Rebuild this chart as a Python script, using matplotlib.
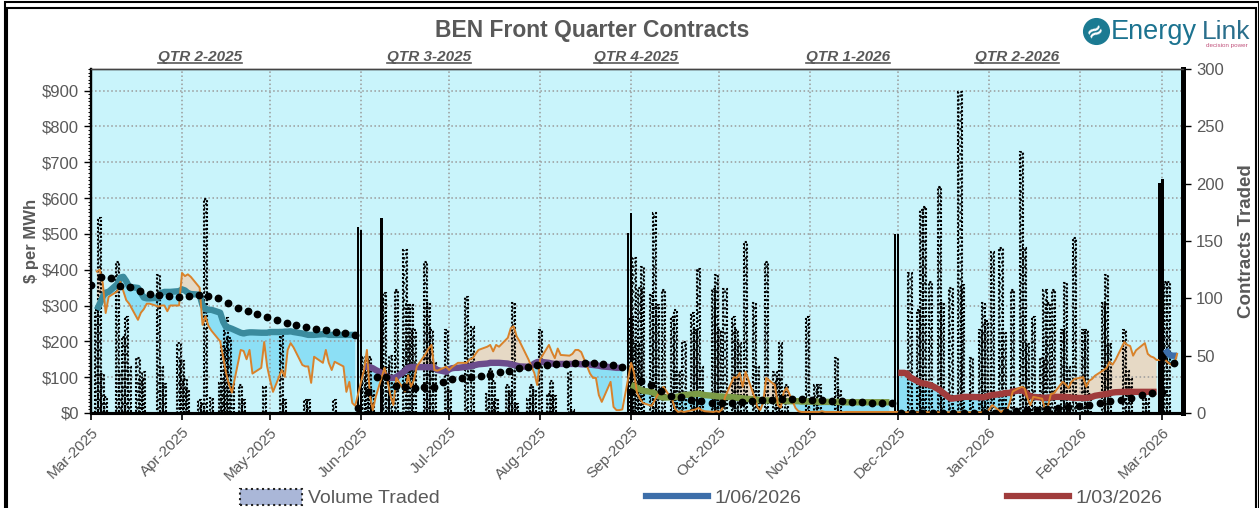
import matplotlib.pyplot as plt
import matplotlib.dates as mdates
import numpy as np
import pandas as pd
from matplotlib.patches import Patch, Rectangle
from matplotlib.lines import Line2D

plt.rcParams['font.family'] = ['Liberation Sans', 'DejaVu Sans']
plt.rcParams['hatch.linewidth'] = 1.2
GREY = '#595959'

# --- trading days of each front quarter ---
q2_25_days = pd.bdate_range('2025-03-03', '2025-05-30')
q3_25_days = pd.bdate_range('2025-06-02', '2025-08-29')
q4_25_days = pd.bdate_range('2025-09-01', '2025-11-28')
q1_26_days = pd.bdate_range('2025-12-01', '2026-02-27')
q2_26_days = pd.bdate_range('2026-03-02', '2026-03-06')

# front quarter settlement ($/MWh)
q2_25_price = [288, 305, 325, 336, 338, 360, 378, 380, 368, 352, 349, 335, 322, 320, 320, 322, 335, 338, 338, 338, 340,
               345, 342, 335, 332, 330, 300, 290, 288, 288, 280, 255, 240, 238, 235, 224, 222, 224, 225, 225, 224, 224, 224,
               226, 226, 226, 227, 227, 228, 226, 222, 220, 218, 218, 218, 220, 220, 218, 218, 218, 218, 218, 218, 218, 218]
q3_25_price = [129, 129, 128, 125, 120, 108, 100, 98, 98, 100, 118, 126, 128, 128, 128, 128, 128, 128, 126, 120, 115,
               122, 125, 126, 126, 129, 130, 132, 134, 136, 138, 140, 140, 140, 140, 138, 136, 134, 132, 130, 129, 132, 138, 142,
               143, 140, 138, 137, 137, 137, 137, 137, 137, 137, 136, 135, 134, 133, 132, 130, 128, 127, 126, 126, 126]
q4_25_price = [78, 75, 70, 66, 62, 59, 55, 50, 45, 43, 44, 45, 46, 48, 50, 52, 53, 54, 52, 50, 48, 47,
               46, 46, 45, 44, 43, 42, 41, 40, 38, 37, 36, 36, 35, 35, 34, 34, 34, 33, 33, 33, 32, 32, 32,
               32, 31, 31, 31, 31, 31, 31, 30, 30, 30, 30, 30, 30, 30, 30, 30, 30, 30, 30, 30]
q1_26_price = [112, 112, 112, 110, 100, 87, 83, 82, 80, 78, 65, 58, 52, 45, 40, 43, 45, 45, 45, 45, 44, 44, 46,
               48, 50, 53, 55, 56, 56, 60, 64, 60, 52, 47, 45, 43, 42, 43, 44, 45, 45, 45, 44, 43, 42,
               42, 42, 43, 45, 48, 52, 53, 55, 57, 58, 59, 59, 59, 59, 59, 59, 59, 59, 59, 59]
q2_26_price = [178, 165, 160, 160, 160]

# daily spot ($/MWh)
q2_25_spot = [395, 400, 363, 279, 324, 340, 366, 340, 315, 305, 260, 280, 290, 305, 305, 297, 300, 300, 284, 300, 300,
              391, 382, 387, 380, 350, 246, 270, 243, 230, 200, 157, 112, 80, 57, 176, 173, 150, 176, 110, 126, 198, 130,
              92, 59, 120, 101, 176, 195, 183, 134, 130, 130, 84, 157, 140, 176, 140, 120, 143, 130, 59, 87, 28, 20]
q3_25_spot = [120, 176, 50, 8, 45, 126, 90, 50, 22, 98, 60, 105, 73, 92, 130, 165, 180, 190, 120, 118, 129,
              120, 128, 134, 140, 140, 150, 153, 165, 176, 185, 190, 172, 190, 185, 210, 237, 242, 214, 200, 150, 130, 112, 78,
              150, 190, 170, 153, 180, 162, 160, 165, 176, 176, 170, 110, 98, 98, 50, 31, 87, 17, 8, 8, 10]
q4_25_spot = [140, 112, 56, 40, 28, 20, 35, 50, 60, 73, 37, 11, 3, 5, 3, 8, 10, 14, 8, 5, 3, 5,
              3, 10, 45, 100, 98, 112, 73, 115, 45, 17, 8, 30, 98, 78, 22, 15, 59, 70, 14, 5, 3, 3, 3,
              3, 3, 5, 3, 3, 3, 3, 2, 3, 3, 3, 3, 3, 3, 3, 3, 3, 3, 3, 3]
q1_26_spot = [3, 3, 2, 2, 2, 2, 2, 3, 2, 2, 2, 2, 2, 2, 2, 2, 2, 2, 2, 2, 2, 2, 3,
              10, 22, 3, 8, 5, 30, 60, 73, 70, 42, 22, 45, 40, 11, 20, 53, 55, 87, 80, 70, 87, 95,
              100, 73, 90, 95, 104, 120, 126, 143, 135, 148, 198, 190, 187, 160, 175, 195, 165, 158, 155, 148]
q2_26_spot = [148, 140, 135, 135, 165]

# contracts traded per day
q2_25_vol = [90, 170, 34, 14, 0, 132, 37, 66, 84, 40, 48, 29, 36, 0, 0, 120, 40, 25, 0, 0, 61,
             45, 30, 20, 0, 11, 8, 187, 0, 13, 26, 58, 83, 65, 25, 24, 11, 0, 0, 0, 0, 23, 0,
             0, 0, 72, 11, 0, 0, 0, 0, 11, 11, 0, 0, 0, 0, 0, 0, 11, 0, 0, 0, 0, 0]
q3_25_vol = [49, 45, 49, 20, 0, 105, 40, 50, 0, 107, 142, 94, 94, 72, 0, 132, 96, 72, 44, 0, 72,
             20, 0, 0, 0, 101, 0, 75, 0, 0, 17, 38, 28, 12, 0, 24, 18, 96, 8, 0, 12, 24, 20, 0,
             72, 17, 28, 15, 0, 0, 36, 3, 0, 0, 0, 0, 0, 0, 0, 0, 0, 0, 0, 0, 0]
q4_25_vol = [84, 135, 60, 109, 127, 103, 174, 94, 0, 107, 84, 90, 36, 0, 62, 87, 72, 126, 40, 0, 108, 120,
             72, 0, 108, 84, 72, 61, 0, 149, 96, 40, 0, 0, 132, 36, 30, 61, 0, 24, 0, 0, 0, 0, 84,
             24, 24, 0, 0, 0, 48, 20, 0, 0, 0, 0, 0, 0, 0, 0, 0, 0, 0, 0, 0]
q1_26_vol = [0, 0, 0, 0, 122, 90, 177, 180, 0, 114, 197, 96, 0, 0, 109, 280, 112, 0, 0, 48, 72, 96, 80,
             0, 140, 144, 70, 0, 0, 107, 228, 144, 60, 0, 84, 48, 107, 96, 0, 107, 72, 113, 40, 0, 153,
             72, 72, 17, 0, 0, 96, 120, 60, 0, 0, 72, 37, 30, 0, 0, 12, 12, 0, 0, 0]
q2_26_vol = [114, 114, 0, 0, 0]

# roll-day volumes (solid bars)
roll_dates = pd.to_datetime(['2025-05-31', '2025-06-01', '2025-06-08', '2025-08-31', '2025-09-01',
                             '2025-11-30', '2025-12-01', '2026-02-28', '2026-03-01'])
roll_vol = [162, 160, 170, 157, 174, 156, 156, 201, 204]

# earlier forward curve snapshot (black dots)
q2_25_fwd = [358, 380, 377, 355, 352, 341, 332, 330, 327, 324, 327, 330, 327, 321, 307, 293, 285, 277, 268, 260,
             252, 246, 240, 235, 232, 226, 224, 218]
q3_25_fwd = [14, 60, 101, 101, 75, 73, 70, 73, 73, 87, 95, 98, 101, 103, 107, 115, 118, 126, 129, 134, 134, 137,
             137, 140, 140, 140, 137, 134, 129]
q4_25_fwd = [59, 90, 78, 61, 48, 45, 36, 33, 29, 28, 27, 31, 34, 36, 37, 39, 39, 40, 37, 36, 34, 34, 31, 30,
             29, 29, 28]
q1_26_fwd = [0, 0, 0, 0, 0, 0, 0, 0, 0, 0, 2, 5, 7, 8, 10, 14, 17, 20, 23, 28, 33, 36, 42, 50, 56, 59]
q2_26_fwd = [157, 140]
fwd_spans = [('2025-03-01', '2025-05-30'), ('2025-05-31', '2025-08-29'), ('2025-09-01', '2025-11-29'),
             ('2025-12-02', '2026-03-01'), ('2026-03-01', '2026-03-05')]

quarters = [
    (q2_25_days, q2_25_price, q2_25_spot, q2_25_vol, q2_25_fwd, '#3a8b9e'),
    (q3_25_days, q3_25_price, q3_25_spot, q3_25_vol, q3_25_fwd, '#6b4c8c'),
    (q4_25_days, q4_25_price, q4_25_spot, q4_25_vol, q4_25_fwd, '#7b9b46'),
    (q1_26_days, q1_26_price, q1_26_spot, q1_26_vol, q1_26_fwd, '#a03c3c'),
    (q2_26_days, q2_26_price, q2_26_spot, q2_26_vol, q2_26_fwd, '#3d6ea9'),
]
qtr_labels = ['QTR 2-2025', 'QTR 3-2025', 'QTR 4-2025', 'QTR 1-2026', 'QTR 2-2026']
qtr_label_x = [200, 429, 636, 848, 1017]

fig = plt.figure(figsize=(12.59, 5.08), dpi=100)
W, H = 1259, 508
ax = fig.add_axes([91 / W, 1 - 413 / H, (1183 - 91) / W, (413 - 69) / H])
ax.set_facecolor('#c9f4fb')
ax2 = ax.twinx()
ax3 = ax.twinx()

all_days, all_spot = [], []
for (days, price, spot, vol, fwd, col), span in zip(quarters, fwd_spans):
    price = np.array(price, float)
    spot = np.array(spot, float)
    ax.fill_between(days, spot, price, where=spot < price, interpolate=True, color='#8cdff5', lw=0, zorder=1)
    ax.fill_between(days, spot, price, where=spot >= price, interpolate=True, color='#e6d9c5', lw=0, zorder=1)
    vol = np.array(vol)
    ax2.bar(days[vol > 0], vol[vol > 0], width=1.1, facecolor='none', edgecolor='black', hatch='....',
            linewidth=1.5, linestyle=(0, (1, 0.9)))
    ax3.plot(days, price, color=col, lw=4.6, solid_capstyle='butt', zorder=3)
    fdates = pd.date_range(span[0], span[1], periods=len(fwd))
    ax3.plot(fdates, fwd, 'o', color='black', markersize=4.6, zorder=5)
    all_days.extend(days)
    all_spot.extend(spot)

ax2.bar(roll_dates, roll_vol, width=0.8, color='black')
ax3.plot(all_days, all_spot, color='#d9822b', lw=1.4, zorder=4)

# axes scales
ax.set_ylim(0, 960)
ax3.set_ylim(0, 960)
ax2.set_ylim(0, 300)
ax.set_xlim(pd.Timestamp('2025-03-01'), pd.Timestamp('2026-03-08'))

ax.set_yticks(np.arange(0, 901, 100))
ax.set_yticklabels([f'${v}' for v in range(0, 901, 100)])
ax.yaxis.set_minor_locator(plt.MultipleLocator(10))
ax.tick_params(axis='y', which='major', labelsize=12, labelcolor=GREY, length=5, width=1)
ax.tick_params(axis='y', which='minor', length=2.5, width=0.7)
ax2.set_yticks(np.arange(0, 301, 50))
ax2.tick_params(axis='y', labelsize=12, labelcolor=GREY, length=6, width=1)
ax3.set_yticks([])

ax.xaxis.set_major_locator(mdates.MonthLocator())
ax.xaxis.set_major_formatter(mdates.DateFormatter('%b-%Y'))
ax.tick_params(axis='x', labelsize=11, labelcolor=GREY, length=5, width=1.2)
for lab in ax.get_xticklabels():
    lab.set_rotation(45)
    lab.set_ha('right')
    lab.set_rotation_mode('anchor')

ax.grid(True, linestyle=':', color='#9a9a9a', linewidth=1.1)
ax.set_axisbelow(False)

for a in (ax, ax2, ax3):
    a.spines['top'].set_color('#444444')
    a.spines['top'].set_linewidth(1)
    a.spines['left'].set_linewidth(1.6)
    a.spines['bottom'].set_linewidth(2.2)
    a.spines['right'].set_linewidth(3.5)
for s in ax3.spines.values():
    s.set_visible(False)

ax.set_ylabel('$ per MWh', fontsize=12, fontweight='bold', color=GREY, labelpad=2)
ax2.set_ylabel('Contracts Traded', fontsize=13.5, fontweight='bold', color=GREY, labelpad=10)

# title, quarter labels, logo
fig.text(592 / W, 1 - 30 / H, 'BEN Front Quarter Contracts', fontsize=16.5, fontweight='bold',
         color=GREY, ha='center', va='center')
qtexts = [fig.text(x / W, 1 - 57 / H, lab, fontsize=11, fontweight='bold', fontstyle='italic',
                   color=GREY, ha='center', va='center') for lab, x in zip(qtr_labels, qtr_label_x)]

fig.add_artist(Line2D([1096 / W], [1 - 31 / H], marker='o', markersize=18.5, color='#1b7a92',
                      transform=fig.transFigure))
fig.text(1096 / W, 1 - 31 / H, '≈', fontsize=15, fontweight='bold', color='white', ha='center',
         va='center', rotation=30, family='DejaVu Sans')
fig.text(1111 / W, 1 - 32 / H, 'Energy', fontsize=19.5, color='#1c7390', ha='left', va='center')
fig.text(1202 / W, 1 - 32 / H, 'Link', fontsize=19, color='#2a6f8c', ha='left', va='center')
fig.text(1248 / W, 1 - 45 / H, 'decision power', fontsize=4.5, color='#c0507a', ha='right', va='center')

# frame around chart
fig.add_artist(Rectangle((5 / W, -0.05), (1259 - 5) / W, 1.05 - 2 / H, transform=fig.transFigure,
                         fill=False, edgecolor='black', lw=1.5))
fig.add_artist(Rectangle((7 / W, -0.05), (1256 - 7) / W, 1.05 - 8 / H, transform=fig.transFigure,
                         fill=False, edgecolor='black', lw=1.5))

handles = [Patch(facecolor='#aab7d8', edgecolor='#222222', linestyle=':', linewidth=1.5),
           Line2D([], [], color='#3d6ea9', lw=4.5),
           Line2D([], [], color='#a03c3c', lw=4.5)]
fig.legend(handles, ['Volume Traded', '1/06/2026', '1/03/2026'], loc='center', ncol=3,
           bbox_to_anchor=(701 / W, 1 - 498 / H), frameon=False, fontsize=14, labelcolor=GREY,
           handlelength=3.2, handletextpad=0.3, columnspacing=10.6, handleheight=0.9)

# underline the quarter labels
fig.canvas.draw()
r = fig.canvas.get_renderer()
inv = fig.transFigure.inverted()
for t in qtexts:
    bb = t.get_window_extent(r).transformed(inv)
    fig.add_artist(Line2D([bb.x0, bb.x1], [bb.y0 + 0.002] * 2, transform=fig.transFigure, color=GREY, lw=1.2))

fig.savefig('out.png', dpi=100)
